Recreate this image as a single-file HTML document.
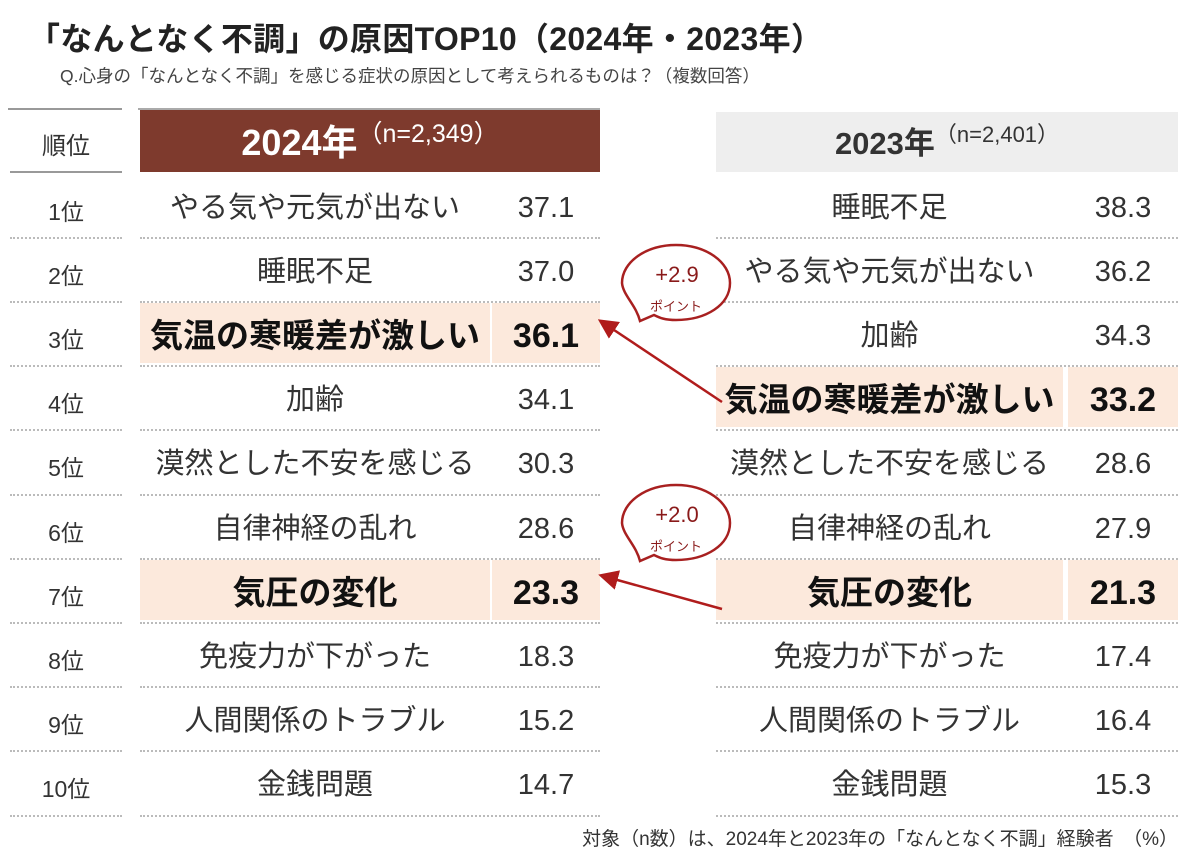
<!DOCTYPE html>
<html><head><meta charset="utf-8"><style>
body{margin:0;width:1200px;height:865px;background:#fff;position:relative;overflow:hidden;font-family:"Liberation Sans","Noto Sans CJK JP",sans-serif;color:#333}
.a{position:absolute}
.t{left:28px;top:14px;font-size:32px;font-weight:bold;color:#222;letter-spacing:0.3px;white-space:nowrap}
.s{left:60px;top:63px;font-size:17.5px;color:#444;white-space:nowrap}
.f{right:22px;top:824px;font-size:19px;color:#333;white-space:nowrap}
.rk{left:10px;width:112px;text-align:center;font-size:23px;color:#333}
.c{text-align:center;font-size:29px;color:#333;white-space:nowrap}
.v{font-size:29px}
.hl{background:#fce9dc}
.b{font-weight:bold;color:#111;font-size:33px}
.vb{font-weight:bold;color:#111;font-size:34px}
.dl{height:0;border-top:2px dotted #bbb}
</style></head><body>
<div class="a t">「なんとなく不調」の原因TOP10（2024年・2023年）</div>
<div class="a s">Q.心身の「なんとなく不調」を感じる症状の原因として考えられるものは？（複数回答）</div>

<div class="a" style="left:8px;top:108px;width:114px;border-top:2px solid #999"></div>
<div class="a" style="left:10px;top:171px;width:112px;border-top:2px solid #999"></div>
<div class="a rk" style="top:126px;font-size:24px">順位</div>

<div class="a" style="left:138px;top:108px;width:462px;border-top:2px solid #aaa"></div>
<div class="a" style="left:140px;top:110px;width:460px;height:62px;background:#7e3a2d;color:#fff;text-align:center;line-height:66px;white-space:nowrap"><b style="font-size:36px;vertical-align:middle">2024年</b><span style="font-size:25px;vertical-align:top;position:relative;top:-9px">（n=2,349）</span></div>

<div class="a" style="left:716px;top:112px;width:462px;height:60px;background:#eeeeee;color:#333;text-align:center;line-height:64px;white-space:nowrap"><b style="font-size:31px;vertical-align:middle">2023年</b><span style="font-size:22px;vertical-align:top;position:relative;top:-9px">（n=2,401）</span></div>

<div id="rows"></div>
<script>
var L=[["やる気や元気が出ない","37.1"],["睡眠不足","37.0"],["気温の寒暖差が激しい","36.1",1],["加齢","34.1"],["漠然とした不安を感じる","30.3"],["自律神経の乱れ","28.6"],["気圧の変化","23.3",1],["免疫力が下がった","18.3"],["人間関係のトラブル","15.2"],["金銭問題","14.7"]];
var R=[["睡眠不足","38.3"],["やる気や元気が出ない","36.2"],["加齢","34.3"],["気温の寒暖差が激しい","33.2",1],["漠然とした不安を感じる","28.6"],["自律神経の乱れ","27.9"],["気圧の変化","21.3",1],["免疫力が下がった","17.4"],["人間関係のトラブル","16.4"],["金銭問題","15.3"]];
var h="",H=64.2,y0=172.5;
for(var i=0;i<10;i++){var y=y0+i*H,yb=y+H;
h+='<div class="a rk" style="top:'+(y+20)+'px">'+(i+1)+'位</div>';
h+='<div class="a dl" style="left:10px;width:112px;top:'+yb+'px"></div>';
h+='<div class="a dl" style="left:140px;width:460px;top:'+yb+'px"></div>';
h+='<div class="a dl" style="left:716px;width:462px;top:'+yb+'px"></div>';
[[L[i],140,350,492,108],[R[i],716,347,1068,110]].forEach(function(q){var d=q[0],hl=d[2];
h+='<div class="a c'+(hl?' hl b':'')+'" style="left:'+q[1]+'px;width:'+q[2]+'px;top:'+(y+2)+'px;height:'+(H-4)+'px;line-height:'+(H+2)+'px">'+d[0]+'</div>';
h+='<div class="a c v'+(hl?' hl vb':'')+'" style="left:'+q[3]+'px;width:'+q[4]+'px;top:'+(y+2)+'px;height:'+(H-4)+'px;line-height:'+(H+2)+'px">'+d[1]+'</div>';});
}
document.getElementById('rows').innerHTML=h;
</script>
<svg class="a" style="left:0;top:0" width="1200" height="865">
<defs><marker id="m" markerWidth="8" markerHeight="8" refX="6" refY="4" orient="auto" markerUnits="strokeWidth"><path d="M0,0 L8,4 L0,8z" fill="#b01c1c"/></marker></defs>
<line x1="722" y1="402" x2="602" y2="322" stroke="#b01c1c" stroke-width="2.5" marker-end="url(#m)"/>
<line x1="722" y1="609" x2="603" y2="576" stroke="#b01c1c" stroke-width="2.5" marker-end="url(#m)"/>
<g fill="#fff" stroke="#a82020" stroke-width="2.5">
<path d="M640,321 C636,305 623,295 622,283 C622,262 646,245 676,245 C706,245 730,262 730,283 C730,305 706,320 676,320 C665,320 660,318 654,315 Z"/>
<path d="M640,561 C636,545 623,535 622,523 C622,502 646,485 676,485 C706,485 730,502 730,523 C730,545 706,560 676,560 C665,560 660,558 654,555 Z"/>
</g>
<g fill="#8a1a1a" font-family="Liberation Sans,Noto Sans CJK JP,sans-serif" text-anchor="middle">
<text x="677" y="282" font-size="22">+2.9</text><text x="676" y="311" font-size="13">ポイント</text>
<text x="677" y="522" font-size="22">+2.0</text><text x="676" y="551" font-size="13">ポイント</text>
</g>
</svg>
<div class="a f">対象（n数）は、2024年と2023年の「なんとなく不調」経験者　（%）</div>
</body></html>
